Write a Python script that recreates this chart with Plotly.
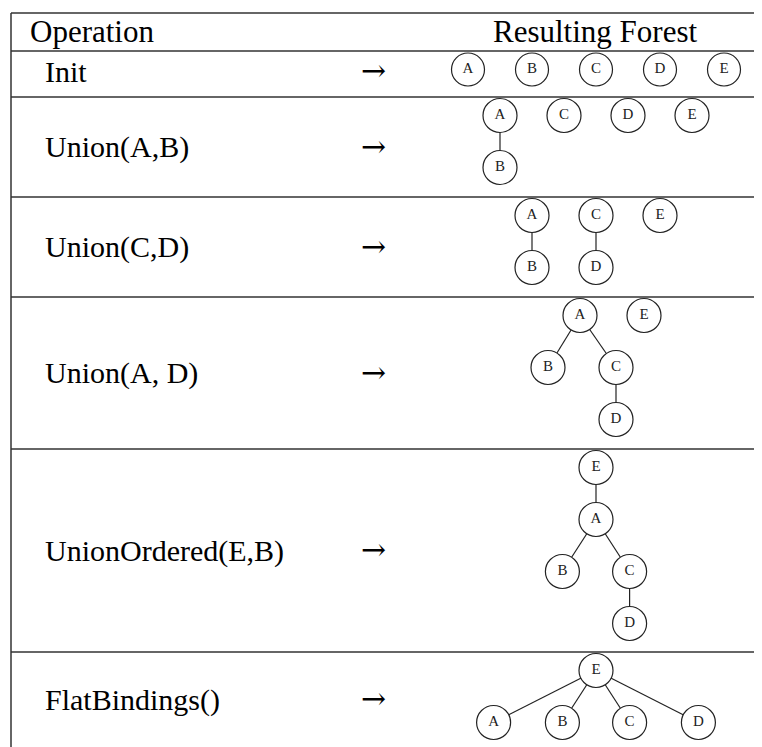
import plotly.graph_objects as go

# ---- table content ----
header_left = "Operation"
header_right = "Resulting Forest"
operations = ["Init", "Union(A,B)", "Union(C,D)", "Union(A, D)",
              "UnionOrdered(E,B)", "FlatBindings()"]
arrow = "→"

# row boundaries (top of header, then bottom of each row)
row_lines = [13, 51, 97, 197, 297, 449, 652]
table_bottom = 747

# forests: node labels, horizontal offset (tree units), depth level, edges
forest_labels = [
    ["A", "B", "C", "D", "E"],
    ["A", "B", "C", "D", "E"],
    ["A", "B", "C", "D", "E"],
    ["A", "B", "C", "D", "E"],
    ["E", "A", "B", "C", "D"],
    ["E", "A", "B", "C", "D"],
]
forest_xoff = [
    [-4, -2, 0, 2, 4],
    [-3, -3, -1, 1, 3],
    [-2, -2, 0, 0, 2],
    [-0.5, -1.5, 0.625, 0.625, 1.5],
    [0, 0, -1.05, 1.05, 1.05],
    [0, -3.2, -1.05, 1.05, 3.2],
]
forest_depth = [
    [0, 0, 0, 0, 0],
    [0, 1, 0, 0, 0],
    [0, 1, 0, 1, 0],
    [0, 1, 1, 2, 0],
    [0, 1, 2, 2, 3],
    [0, 1, 1, 1, 1],
]
forest_edges = [
    [],
    [("A", "B")],
    [("A", "B"), ("C", "D")],
    [("A", "B"), ("A", "C"), ("C", "D")],
    [("E", "A"), ("A", "B"), ("A", "C"), ("C", "D")],
    [("E", "A"), ("E", "B"), ("E", "C"), ("E", "D")],
]

# ---- layout parameters ----
W, H = 762, 747
PAGE_OFF = 8  # default body margin of the html page
left_x = 11
text_x = 43
header_text_x = 28
arrow_x = 373
forest_center = 596
unit = 32
level0 = 18.5
level_gap = 52
font_family = "Liberation Serif, Times New Roman, serif"
line_color = "#333333"

fig = go.Figure()

# table lines
for y in row_lines:
    fig.add_shape(type="line", x0=left_x, x1=W + 20, y0=y, y1=y,
                  line=dict(color=line_color, width=1.5), layer="below")
fig.add_shape(type="line", x0=left_x, x1=left_x, y0=row_lines[0], y1=table_bottom + 20,
              line=dict(color=line_color, width=1.5), layer="below")

# header text
fig.add_annotation(x=header_text_x, y=(row_lines[0] + row_lines[1]) / 2 - 1,
                   text=header_left, showarrow=False, xanchor="left", yanchor="middle",
                   font=dict(family=font_family, size=31, color="black"))
fig.add_annotation(x=forest_center - 1.5, y=(row_lines[0] + row_lines[1]) / 2 - 1,
                   text=header_right, showarrow=False, xanchor="center", yanchor="middle",
                   font=dict(family=font_family, size=31, color="black"))

bottoms = row_lines[2:] + [table_bottom]
for i, op in enumerate(operations):
    top = row_lines[i + 1]
    bot = bottoms[i]
    mid = (top + bot) / 2
    if i == 0:
        mid = top + 20
    fig.add_annotation(x=text_x, y=mid, text=op, showarrow=False,
                       xanchor="left", yanchor="middle",
                       font=dict(family=font_family, size=30, color="black"))
    fig.add_annotation(x=arrow_x, y=mid - 1, text=arrow, showarrow=False,
                       xanchor="center", yanchor="middle",
                       font=dict(family="DejaVu Serif", size=30, color="black"))

    labels = forest_labels[i]
    xs = [forest_center + unit * v for v in forest_xoff[i]]
    ys = [top + level0 + level_gap * d for d in forest_depth[i]]
    pos = {lab: (x, y) for lab, x, y in zip(labels, xs, ys)}

    # edges
    ex, ey = [], []
    for p, c in forest_edges[i]:
        ex += [pos[p][0], pos[c][0], None]
        ey += [pos[p][1], pos[c][1], None]
    if ex:
        fig.add_trace(go.Scatter(x=ex, y=ey, mode="lines",
                                 line=dict(color="#222222", width=1.2),
                                 hoverinfo="skip", showlegend=False))
    # nodes
    fig.add_trace(go.Scatter(
        x=xs, y=ys, mode="markers+text", text=labels,
        textposition="middle center",
        textfont=dict(family=font_family, size=15, color="#222222"),
        marker=dict(size=33 if i == 0 else 34, color="white",
                    line=dict(color="#222222", width=1.2)),
        hoverinfo="skip", showlegend=False))

fig.update_layout(
    width=W, height=H,
    margin=dict(l=0, r=0, t=0, b=0),
    paper_bgcolor="white", plot_bgcolor="white",
    xaxis=dict(range=[PAGE_OFF, W + PAGE_OFF], visible=False, fixedrange=True),
    yaxis=dict(range=[H + PAGE_OFF, PAGE_OFF], visible=False, fixedrange=True),
    showlegend=False,
)

fig.write_html("out.html")
